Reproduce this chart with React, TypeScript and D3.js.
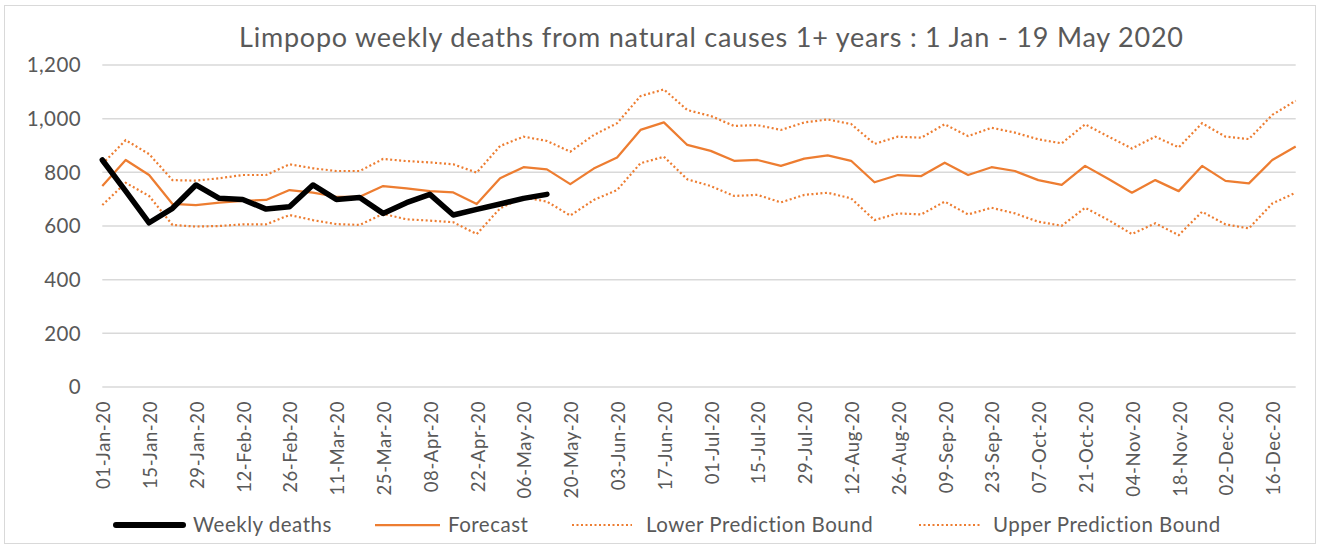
import React, { useEffect, useRef } from "react";
import * as d3 from "d3";

const weeks = [
  "01-Jan-20", "08-Jan-20", "15-Jan-20", "22-Jan-20", "29-Jan-20",
  "05-Feb-20", "12-Feb-20", "19-Feb-20", "26-Feb-20",
  "04-Mar-20", "11-Mar-20", "18-Mar-20", "25-Mar-20",
  "01-Apr-20", "08-Apr-20", "15-Apr-20", "22-Apr-20", "29-Apr-20",
  "06-May-20", "13-May-20", "20-May-20", "27-May-20",
  "03-Jun-20", "10-Jun-20", "17-Jun-20", "24-Jun-20",
  "01-Jul-20", "08-Jul-20", "15-Jul-20", "22-Jul-20", "29-Jul-20",
  "05-Aug-20", "12-Aug-20", "19-Aug-20", "26-Aug-20",
  "02-Sep-20", "09-Sep-20", "16-Sep-20", "23-Sep-20", "30-Sep-20",
  "07-Oct-20", "14-Oct-20", "21-Oct-20", "28-Oct-20",
  "04-Nov-20", "11-Nov-20", "18-Nov-20", "25-Nov-20",
  "02-Dec-20", "09-Dec-20", "16-Dec-20", "23-Dec-20",
];

// actual weekly deaths, 01-Jan to 13-May
const weeklyDeaths = [
  846, 730, 612, 666, 753, 703, 699, 663, 672, 753, 699, 706,
  647, 687, 718, 641, 662, 682, 703, 718,
];

const forecast = [
  749, 846, 790, 682, 678, 687, 694, 697, 734, 724, 709, 709,
  749, 740, 730, 725, 682, 778, 819, 811, 756, 814, 855,
  958, 986, 902, 880, 843, 846, 824, 851, 863, 843, 763,
  790, 786, 836, 790, 819, 805, 771, 753, 824, 775, 724, 771,
  730, 824, 768, 759, 846, 896,
];

const lowerBound = [
  678, 761, 712, 604, 598, 600, 606, 606, 641, 622, 607, 604,
  645, 625, 620, 614, 570, 666, 707, 691, 639, 697, 734,
  834, 858, 774, 749, 712, 716, 688, 716, 724, 703, 622,
  647, 643, 691, 643, 668, 647, 616, 601, 668, 622, 570, 610,
  566, 653, 606, 591, 684, 724,
];

const upperBound = [
  831, 920, 868, 771, 769, 778, 790, 790, 830, 815, 805, 805,
  850, 842, 837, 830, 799, 898, 933, 917, 877, 939, 983,
  1084, 1109, 1032, 1010, 973, 976, 958, 986, 997, 980, 906,
  933, 929, 979, 935, 966, 948, 923, 908, 979, 933, 889, 933,
  893, 983, 933, 924, 1014, 1067,
];

const yTicks = [0, 200, 400, 600, 800, 1000, 1200];

const title = "Limpopo weekly deaths from natural causes 1+ years : 1 Jan - 19 May 2020";

const FONT = "Lato, 'Open Sans', sans-serif";
const ORANGE = "#ED7D31";
const TEXT = "#595959";

export default function App() {
  const svgRef = useRef<SVGSVGElement>(null);

  useEffect(() => {
    const width = 1319;
    const height = 546;
    const left = 102.3;
    const right = 1295.7;
    const top = 65;
    const bottom = 387;

    const svg = d3.select(svgRef.current);
    svg.selectAll("*").remove();
    svg.attr("width", width).attr("height", height);

    // chart frame
    svg
      .append("rect")
      .attr("x", 4.5)
      .attr("y", 5.5)
      .attr("width", 1311)
      .attr("height", 538)
      .attr("fill", "white")
      .attr("stroke", "#D9D9D9")
      .attr("stroke-width", 1);

    const x = d3.scalePoint<string>().domain(weeks).range([left, right]);
    const y = d3.scaleLinear().domain([0, 1200]).range([bottom, top]);

    // title
    svg
      .append("text")
      .attr("x", 239)
      .attr("y", 47)
      .attr("textLength", 944)
      .attr("lengthAdjust", "spacing")
      .style("font-family", FONT)
      .style("font-size", "27px")
      .attr("fill", TEXT)
      .text(title);

    // gridlines
    svg
      .append("g")
      .selectAll("line")
      .data(yTicks)
      .join("line")
      .attr("x1", left)
      .attr("x2", right)
      .attr("y1", (d) => y(d))
      .attr("y2", (d) => y(d))
      .attr("stroke", "#D9D9D9")
      .attr("stroke-width", 1.5);

    // y labels
    svg
      .append("g")
      .selectAll("text")
      .data(yTicks)
      .join("text")
      .attr("x", 81)
      .attr("y", (d) => y(d))
      .attr("dy", "0.35em")
      .attr("text-anchor", "end")
      .style("font-family", FONT)
      .style("font-size", "20.5px")
      .style("letter-spacing", "0.4px")
      .attr("fill", TEXT)
      .text((d) => d3.format(",")(d));

    // x labels, every second week
    svg
      .append("g")
      .selectAll("text")
      .data(weeks.filter((_, i) => i % 2 === 0))
      .join("text")
      .attr("transform", (d) => `translate(${(x(d) as number) + 1.5},401) rotate(-90)`)
      .attr("dy", "0.35em")
      .attr("text-anchor", "end")
      .style("font-family", FONT)
      .style("font-size", "18.5px")
      .style("letter-spacing", "0.6px")
      .attr("fill", TEXT)
      .text((d) => d);

    const line = d3
      .line<number>()
      .x((_, i) => x(weeks[i]) as number)
      .y((d) => y(d));

    const plot = svg.append("g");

    plot
      .append("path")
      .attr("d", line(lowerBound))
      .attr("fill", "none")
      .attr("stroke", ORANGE)
      .attr("stroke-width", 2.2)
      .attr("stroke-dasharray", "2 2.5");

    plot
      .append("path")
      .attr("d", line(upperBound))
      .attr("fill", "none")
      .attr("stroke", ORANGE)
      .attr("stroke-width", 2.2)
      .attr("stroke-dasharray", "2 2.5");

    plot
      .append("path")
      .attr("d", line(forecast))
      .attr("fill", "none")
      .attr("stroke", ORANGE)
      .attr("stroke-width", 2.25)
      .attr("stroke-linejoin", "round");

    plot
      .append("path")
      .attr("d", line(weeklyDeaths))
      .attr("fill", "none")
      .attr("stroke", "black")
      .attr("stroke-width", 5.5)
      .attr("stroke-linejoin", "round")
      .attr("stroke-linecap", "round");

    // legend
    const legendItems = [
      { label: "Weekly deaths", x0: 116, x1: 183, tx: 193, color: "black", w: 6, dash: null, cap: "round" },
      { label: "Forecast", x0: 375, x1: 440, tx: 448, color: ORANGE, w: 2.25, dash: null, cap: "butt" },
      { label: "Lower Prediction Bound", x0: 572, x1: 632, tx: 646, color: ORANGE, w: 2, dash: "2 2.5", cap: "butt" },
      { label: "Upper Prediction Bound", x0: 919, x1: 981, tx: 993, color: ORANGE, w: 2, dash: "2 2.5", cap: "butt" },
    ];
    const legendY = 525;
    const lg = svg.append("g");
    legendItems.forEach((it) => {
      lg.append("line")
        .attr("x1", it.x0)
        .attr("x2", it.x1)
        .attr("y1", legendY)
        .attr("y2", legendY)
        .attr("stroke", it.color)
        .attr("stroke-width", it.w)
        .attr("stroke-linecap", it.cap)
        .attr("stroke-dasharray", it.dash);
      lg.append("text")
        .attr("x", it.tx)
        .attr("y", legendY)
        .attr("dy", "0.35em")
        .style("font-family", FONT)
        .style("font-size", "20.5px")
        .style("letter-spacing", "0.5px")
        .attr("fill", TEXT)
        .text(it.label);
    });
  }, []);

  return (
    <svg
      ref={svgRef}
      style={{ position: "absolute", left: 0, top: 0, display: "block" }}
    ></svg>
  );
}
